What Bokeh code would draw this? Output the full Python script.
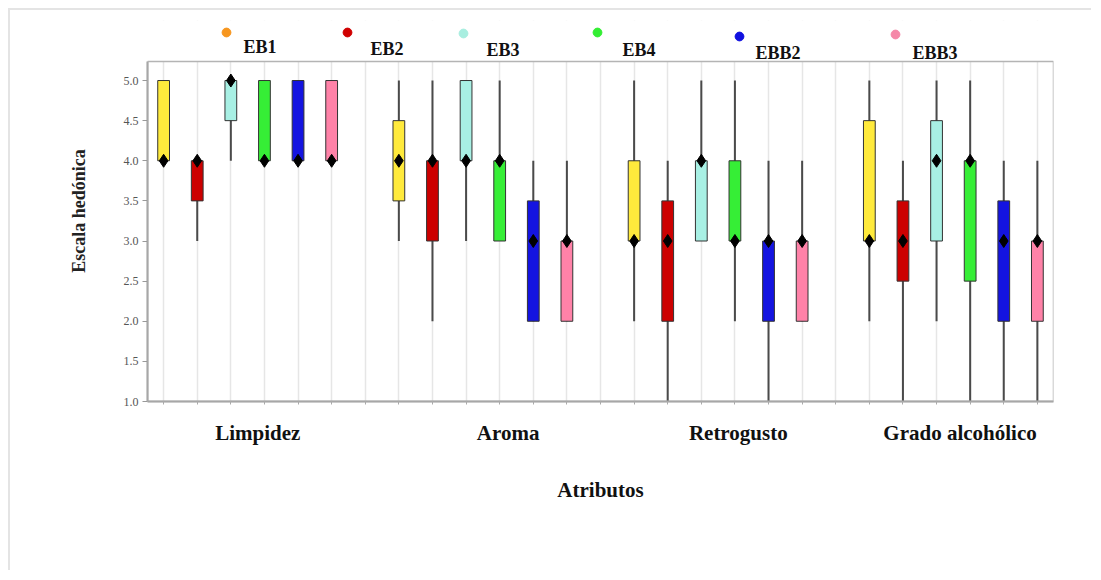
import numpy as np
from bokeh.plotting import figure
from bokeh.models import (Range1d, FixedTicker, Legend, LegendItem, Label, ColumnDataSource,
                          BoxAnnotation, PrintfTickFormatter)
from bokeh.core.properties import value
from bokeh.embed import file_html
from bokeh.resources import INLINE

attributes = ["Limpidez", "Aroma", "Retrogusto", "Grado alcohólico"]
samples = ["EB1", "EB2", "EB3", "EB4", "EBB2", "EBB3"]
box_colors = ["#FFEA3C", "#CC0000", "#A8F0E4", "#36EE36", "#1414E0", "#FF82A8"]
legend_colors = ["#F7961E", "#D00000", "#A8EEE0", "#33EE33", "#1010E0", "#F588A8"]
y_ticks = [1.0, 1.5, 2.0, 2.5, 3.0, 3.5, 4.0, 4.5, 5.0]

# values per sample, one per attribute (Limpidez, Aroma, Retrogusto, Grado alcohólico)
low = {
    "EB1": [4.0, 3.0, 2.0, 2.0],
    "EB2": [3.0, 2.0, 1.0, 1.0],
    "EB3": [4.0, 3.0, 3.0, 2.0],
    "EB4": [4.0, 3.0, 2.0, 1.0],
    "EBB2": [4.0, 2.0, 1.0, 1.0],
    "EBB3": [4.0, 2.0, 2.0, 1.0],
}
q1 = {
    "EB1": [4.0, 3.5, 3.0, 3.0],
    "EB2": [3.5, 3.0, 2.0, 2.5],
    "EB3": [4.5, 4.0, 3.0, 3.0],
    "EB4": [4.0, 3.0, 3.0, 2.5],
    "EBB2": [4.0, 2.0, 2.0, 2.0],
    "EBB3": [4.0, 2.0, 2.0, 2.0],
}
median = {
    "EB1": [4.0, 4.0, 3.0, 3.0],
    "EB2": [4.0, 4.0, 3.0, 3.0],
    "EB3": [5.0, 4.0, 4.0, 4.0],
    "EB4": [4.0, 4.0, 3.0, 4.0],
    "EBB2": [4.0, 3.0, 3.0, 3.0],
    "EBB3": [4.0, 3.0, 3.0, 3.0],
}
q3 = {
    "EB1": [5.0, 4.5, 4.0, 4.5],
    "EB2": [4.0, 4.0, 3.5, 3.5],
    "EB3": [5.0, 5.0, 4.0, 4.5],
    "EB4": [5.0, 4.0, 4.0, 4.0],
    "EBB2": [5.0, 3.5, 3.0, 3.5],
    "EBB3": [5.0, 3.0, 3.0, 3.0],
}
high = {
    "EB1": [5.0, 5.0, 5.0, 5.0],
    "EB2": [4.0, 5.0, 4.0, 4.0],
    "EB3": [5.0, 5.0, 5.0, 5.0],
    "EB4": [5.0, 5.0, 5.0, 5.0],
    "EBB2": [5.0, 4.0, 4.0, 4.0],
    "EBB3": [5.0, 4.0, 4.0, 4.0],
}
label_offsets = [0.3, 0.75, 0.6, 0.2]

n_s = len(samples)
slot = n_s + 1  # one empty slot between groups
n_slots = slot * len(attributes) - 1
x_lo, x_hi = -0.48, n_slots - 1 + 0.48
y_lo, y_top, y_canvas_top = 1.0, 5.237, 5.748  # plot box top; extra room above for the key

p = figure(width=1083, height=562, output_backend="svg", toolbar_location=None,
           x_range=Range1d(x_lo, x_hi), y_range=Range1d(y_lo, y_canvas_top),
           min_border_left=137, min_border_right=40, min_border_top=10, min_border_bottom=171,
           background_fill_color="white", border_fill_color="white")
p.styles = {"margin-left": "8px", "margin-top": "8px",
            "border-left": "2px solid #e4e4e4", "border-top": "2px solid #e4e4e4"}
p.outline_line_color = None

# grid (vertical lines at every slot), masked above the plot box
p.ygrid.visible = False
p.xgrid.ticker = FixedTicker(ticks=list(range(n_slots)))
p.xgrid.grid_line_color = "#e6e6e6"
p.xgrid.grid_line_width = 1.5
p.add_layout(BoxAnnotation(bottom=y_top, fill_color="white", fill_alpha=1.0,
                           line_alpha=0, level="underlay"))
p.add_layout(BoxAnnotation(left=x_lo, right=x_hi, bottom=y_lo, top=y_top,
                           fill_alpha=0, line_color="#b4b4b4", line_alpha=1.0, line_width=1.5,
                           level="overlay"))

for si, s in enumerate(samples):
    xs = [g * slot + si for g in range(len(attributes))]
    src = ColumnDataSource(dict(x=xs, low=low[s], q1=q1[s], med=median[s], q3=q3[s], high=high[s]))
    p.segment(x0="x", y0="low", x1="x", y1="high", source=src, line_color="#4a4a4a", line_width=2)
    p.vbar(x="x", width=0.35, bottom="q1", top="q3", source=src,
           fill_color=box_colors[si], line_color="#333333", line_width=1)
    p.scatter(x="x", y="med", source=src, marker="diamond", size=13,
              fill_color="black", line_color="black")

# x axis
centers = [g * slot + (n_s - 1) / 2 + label_offsets[g] for g in range(len(attributes))]
p.xaxis.ticker = FixedTicker(ticks=centers, minor_ticks=list(range(n_slots)))
p.xaxis.major_label_overrides = {c: a for c, a in zip(centers, attributes)}
p.xaxis.major_tick_line_color = None
p.xaxis.minor_tick_out = 3
p.xaxis.minor_tick_in = 0
p.xaxis.minor_tick_line_color = "#aaaaaa"
p.xaxis.axis_line_color = "#9a9a9a"
p.xaxis.axis_line_width = 2
p.xaxis.major_label_text_font = "Liberation Serif"
p.xaxis.major_label_text_font_style = "bold"
p.xaxis.major_label_text_font_size = "21px"
p.xaxis.major_label_text_color = "#111111"
p.xaxis.major_label_standoff = 13
p.xaxis.axis_label = "Atributos"
p.xaxis.axis_label_text_font = "Liberation Serif"
p.xaxis.axis_label_text_font_style = "bold"
p.xaxis.axis_label_text_font_size = "21px"
p.xaxis.axis_label_text_color = "#111111"
p.xaxis.axis_label_standoff = 30

# y axis
p.yaxis.bounds = (y_lo, y_top)
p.yaxis.ticker = FixedTicker(ticks=y_ticks)
p.yaxis.formatter = PrintfTickFormatter(format="%.1f")
p.yaxis.major_tick_out = 5
p.yaxis.major_tick_in = 0
p.yaxis.minor_tick_line_color = None
p.yaxis.major_tick_line_color = "#999999"
p.yaxis.axis_line_color = "#9a9a9a"
p.yaxis.axis_line_width = 2
p.yaxis.major_label_text_font = "Liberation Serif"
p.yaxis.major_label_text_font_size = "12px"
p.yaxis.major_label_text_color = "#555555"
p.yaxis.major_label_standoff = 4
p.yaxis.axis_label = "Escala hedónica"
p.yaxis.axis_label_text_font = "Liberation Serif"
p.yaxis.axis_label_text_font_style = "bold"
p.yaxis.axis_label_text_font_size = "18px"
p.yaxis.axis_label_text_color = "#222222"
p.yaxis.axis_label_standoff = 32

# key: dot above-left of each label (screen offsets relative to the frame's bottom-left)
dot_pos = [(79, 369), (200, 369), (316, 368), (450, 369), (592, 365), (748, 367)]
text_pos = [(96, 355), (223, 353), (339, 352), (475, 352), (608, 349), (765, 349)]
for si, s in enumerate(samples):
    # key-only renderer: one undrawable point so the legend glyph is painted
    key_src = ColumnDataSource(dict(x=np.array([np.nan]), y=np.array([np.nan])))
    r = p.scatter(x="x", y="y", source=key_src, marker="circle", size=9,
                  fill_color=legend_colors[si], line_color=legend_colors[si])
    dx, dy = dot_pos[si]
    lg = Legend(items=[LegendItem(label=value(" "), renderers=[r], index=0)],
                location=(dx - 11, dy - 11), glyph_width=22, glyph_height=22,
                label_width=1, label_height=22, label_standoff=0, padding=0, margin=0,
                spacing=0, border_line_alpha=0, background_fill_alpha=0)
    p.add_layout(lg)
    tx, ty = text_pos[si]
    p.add_layout(Label(x=tx, y=ty, x_units="screen", y_units="screen", text=s,
                       text_font="Liberation Serif", text_font_style="bold",
                       text_font_size="18px", text_color="#111111",
                       text_baseline="middle", text_align="left"))

open("out.html", "w").write(file_html(p, INLINE))
